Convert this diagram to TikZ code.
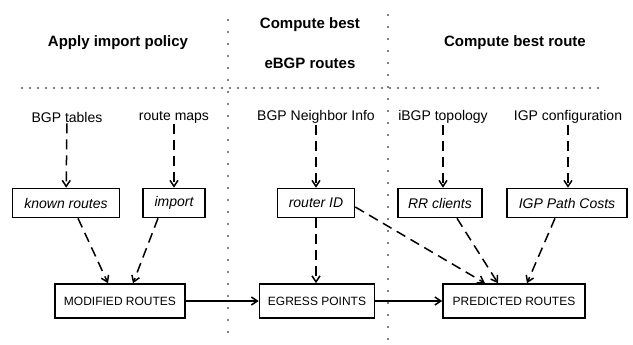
\documentclass[tikz,border=0pt]{standalone}
\usepackage{fontspec}
\setmainfont{Liberation Sans}
\usetikzlibrary{positioning, arrows.meta}

\begin{document}
\begin{tikzpicture}[
  x=1pt, y=-1pt,
  header/.style={font=\fontsize{15}{18}\selectfont\bfseries, align=center},
  inlabel/.style={font=\fontsize{14}{16}\selectfont, inner sep=1pt},
  infobox/.style={draw, line width=1.6pt, minimum height=29pt,
                  font=\fontsize{14}{16}\selectfont\itshape, inner sep=2pt},
  resultbox/.style={draw, line width=1.6pt, minimum height=34pt,
                    font=\fontsize{12}{14}\selectfont, inner sep=2pt},
  feed/.style={-{Straight Barb[length=6pt, width=8pt]}, line width=1.5pt,
               dash pattern=on 10pt off 6pt},
  flow/.style={-{Straight Barb[length=6pt, width=8pt]}, line width=1.5pt},
  divider/.style={line width=1.8pt, line cap=round, dash pattern=on 0pt off 8pt}
]
\useasboundingbox (0,0) rectangle (633,345);

% ---- dividers ----
\draw[divider, dash pattern=on 0pt off 12pt] (228,20) -- (228,340);
\draw[divider, dash pattern=on 0pt off 12pt] (388,15) -- (388,340);
\draw[divider] (22,88) -- (605,88);

% ---- headers ----
\node[header] (h1) at (118,43) {Apply import policy};
\node[header] (h2) at (310,25) {Compute best};
\node[header] (h3) at (310,63) {eBGP routes};
\node[header] (h4) at (515,43) {Compute best route};

% ---- inputs ----
\node[inlabel] (bgpt) at (67,117)  {BGP tables};
\node[inlabel] (rmap) at (174,117) {route maps};
\node[inlabel] (nbr)  at (316,117) {BGP Neighbor Info};
\node[inlabel] (ibgp) at (443,117) {iBGP topology};
\node[inlabel] (igpc) at (568,117) {IGP configuration};

% ---- derived info ----
\node[infobox, minimum width=107pt] (known)  at (66,203)  {known routes};
\node[infobox, minimum width=62pt]  (import) at (174,203) {import};
\node[infobox, minimum width=77pt]  (rid)    at (316,203) {router ID};
\node[infobox, minimum width=84pt]  (rrc)    at (440,203) {RR clients};
\node[infobox, minimum width=120pt] (igpcost) at (567,203) {IGP Path Costs};

% ---- results ----
\node[resultbox, minimum width=130pt] (modr)  at (120,301) {MODIFIED ROUTES};
\node[resultbox, minimum width=115pt] (egr)   at (317,301) {EGRESS POINTS};
\node[resultbox, minimum width=142pt] (predr) at (514,301) {PREDICTED ROUTES};

% ---- arrows ----
\draw[feed] (bgpt) -- (known);
\draw[feed] (rmap) -- (import);
\draw[feed] (nbr) -- (rid);
\draw[feed] (ibgp) -- (rrc.north -| ibgp);
\draw[feed] (igpc) -- (igpcost.north -| igpc);

\draw[feed] ([xshift=12pt]known.south) -- ([xshift=-12pt]modr.north);
\draw[feed] ([xshift=-16pt]import.south) -- ([xshift=13pt]modr.north);
\draw[feed] (rid) -- (egr.north -| rid);
\draw[feed] ([yshift=-4pt]rid.east) -- ([xshift=-29pt]predr.north);
\draw[feed] ([xshift=17pt]rrc.south) -- ([xshift=-16pt]predr.north);
\draw[feed] ([xshift=-12pt]igpcost.south) -- ([xshift=13pt]predr.north);

\draw[flow] (modr) -- (egr);
\draw[flow] (egr) -- (predr);

\end{tikzpicture}
\end{document}
